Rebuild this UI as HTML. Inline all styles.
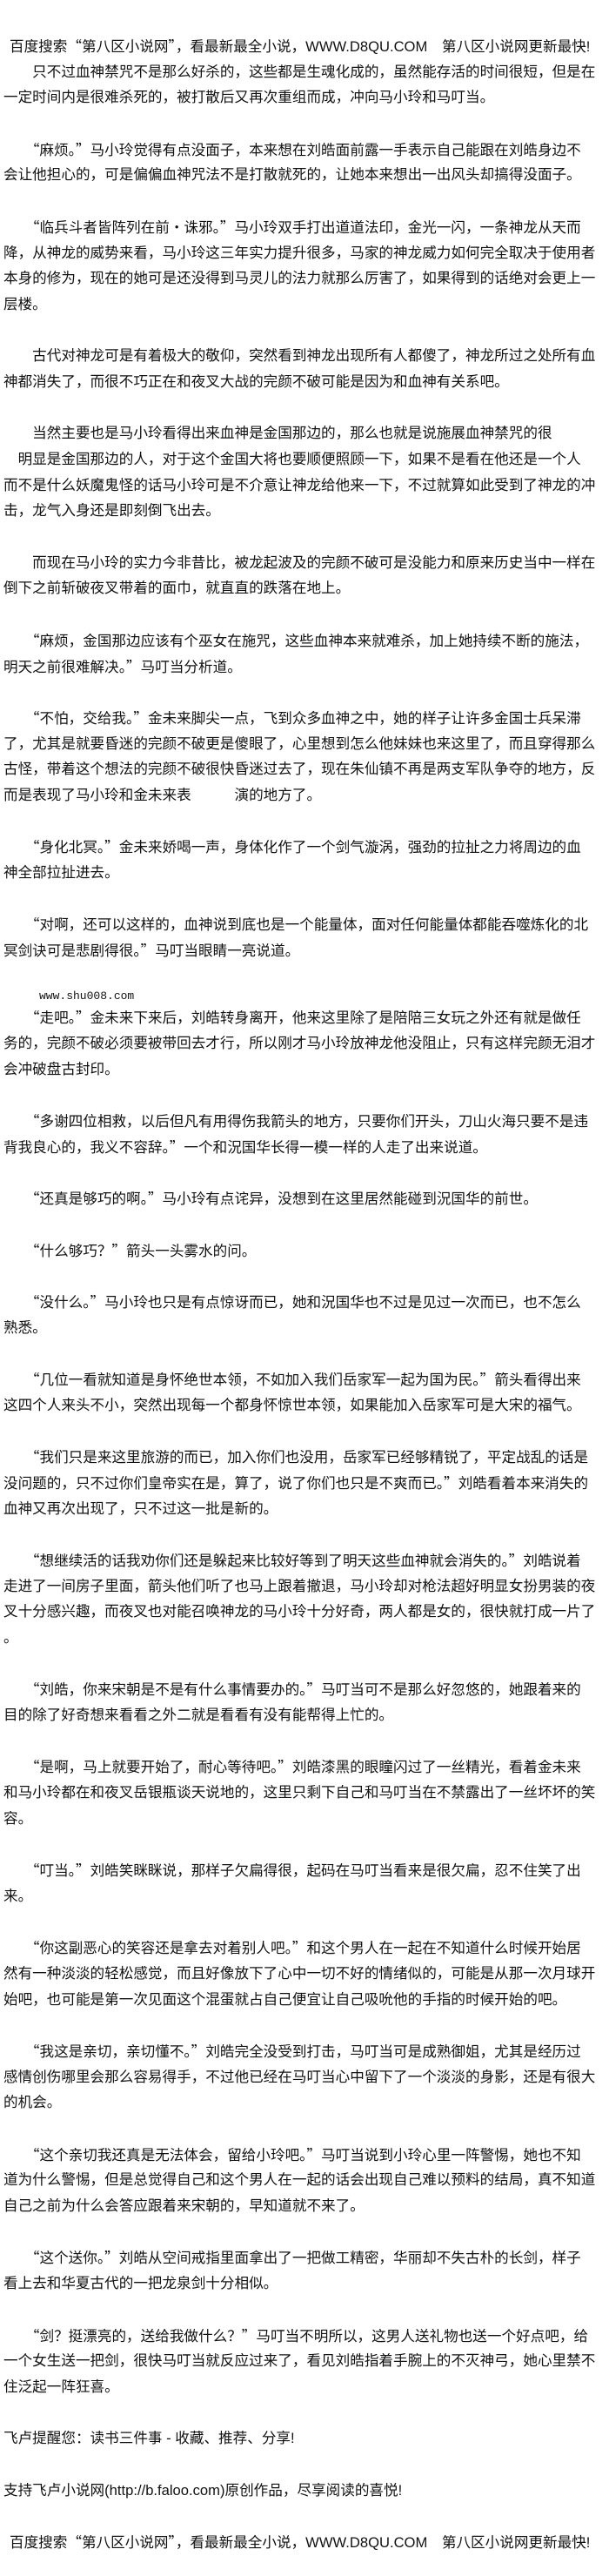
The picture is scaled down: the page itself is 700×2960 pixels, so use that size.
<!DOCTYPE html>
<html lang="zh-CN">
<head>
<meta charset="utf-8">
<style>
html,body{margin:0;padding:0;background:#fff;}
body{width:700px;height:2960px;overflow:hidden;}
#c{padding-top:38px;padding-left:4px;font-family:"Liberation Sans","Noto Sans CJK SC",sans-serif;font-size:16.6px;color:#111;}
#c div{height:29.7px;line-height:29.7px;white-space:pre;}
#c div.b{height:29.7px;}
#c div.w{height:18px;line-height:18px;font-family:"Liberation Mono",monospace;font-size:13px;padding-left:41px;}
#c i{font-style:normal;font-family:"Noto Sans CJK SC",sans-serif;}
.h{padding-left:7px;}
</style>
</head>
<body>
<div id="c">
<div class="h">百度搜索<i>“</i>第八区小说网<i>”</i>，看最新最全小说，WWW.D8QU.COM　第八区小说网更新最快!</div>
<div>　　只不过血神禁咒不是那么好杀的，这些都是生魂化成的，虽然能存活的时间很短，但是在</div>
<div>一定时间内是很难杀死的，被打散后又再次重组而成，冲向马小玲和马叮当。</div>
<div class="b"></div>
<div>　　<i>“</i>麻烦。<i>”</i>马小玲觉得有点没面子，本来想在刘皓面前露一手表示自己能跟在刘皓身边不</div>
<div>会让他担心的，可是偏偏血神咒法不是打散就死的，让她本来想出一出风头却搞得没面子。</div>
<div class="b"></div>
<div>　　<i>“</i>临兵斗者皆阵列在前<i>·</i>诛邪。<i>”</i>马小玲双手打出道道法印，金光一闪，一条神龙从天而</div>
<div>降，从神龙的威势来看，马小玲这三年实力提升很多，马家的神龙威力如何完全取决于使用者</div>
<div>本身的修为，现在的她可是还没得到马灵儿的法力就那么厉害了，如果得到的话绝对会更上一</div>
<div>层楼。</div>
<div class="b"></div>
<div>　　古代对神龙可是有着极大的敬仰，突然看到神龙出现所有人都傻了，神龙所过之处所有血</div>
<div>神都消失了，而很不巧正在和夜叉大战的完颜不破可能是因为和血神有关系吧。</div>
<div class="b"></div>
<div>　　当然主要也是马小玲看得出来血神是金国那边的，那么也就是说施展血神禁咒的很</div>
<div>　明显是金国那边的人，对于这个金国大将也要顺便照顾一下，如果不是看在他还是一个人</div>
<div>而不是什么妖魔鬼怪的话马小玲可是不介意让神龙给他来一下，不过就算如此受到了神龙的冲</div>
<div>击，龙气入身还是即刻倒飞出去。</div>
<div class="b"></div>
<div>　　而现在马小玲的实力今非昔比，被龙起波及的完颜不破可是没能力和原来历史当中一样在</div>
<div>倒下之前斩破夜叉带着的面巾，就直直的跌落在地上。</div>
<div class="b"></div>
<div>　　<i>“</i>麻烦，金国那边应该有个巫女在施咒，这些血神本来就难杀，加上她持续不断的施法，</div>
<div>明天之前很难解决。<i>”</i>马叮当分析道。</div>
<div class="b"></div>
<div>　　<i>“</i>不怕，交给我。<i>”</i>金未来脚尖一点，飞到众多血神之中，她的样子让许多金国士兵呆滞</div>
<div>了，尤其是就要昏迷的完颜不破更是傻眼了，心里想到怎么他妹妹也来这里了，而且穿得那么</div>
<div>古怪，带着这个想法的完颜不破很快昏迷过去了，现在朱仙镇不再是两支军队争夺的地方，反</div>
<div>而是表现了马小玲和金未来表　　　演的地方了。</div>
<div class="b"></div>
<div>　　<i>“</i>身化北冥。<i>”</i>金未来娇喝一声，身体化作了一个剑气漩涡，强劲的拉扯之力将周边的血</div>
<div>神全部拉扯进去。</div>
<div class="b"></div>
<div>　　<i>“</i>对啊，还可以这样的，血神说到底也是一个能量体，面对任何能量体都能吞噬炼化的北</div>
<div>冥剑诀可是悲剧得很。<i>”</i>马叮当眼睛一亮说道。</div>
<div class="b"></div>
<div class="w">www.shu008.com</div>
<div>　　<i>“</i>走吧。<i>”</i>金未来下来后，刘皓转身离开，他来这里除了是陪陪三女玩之外还有就是做任</div>
<div>务的，完颜不破必须要被带回去才行，所以刚才马小玲放神龙他没阻止，只有这样完颜无泪才</div>
<div>会冲破盘古封印。</div>
<div class="b"></div>
<div>　　<i>“</i>多谢四位相救，以后但凡有用得伤我箭头的地方，只要你们开头，刀山火海只要不是违</div>
<div>背我良心的，我义不容辞。<i>”</i>一个和況国华长得一模一样的人走了出来说道。</div>
<div class="b"></div>
<div>　　<i>“</i>还真是够巧的啊。<i>”</i>马小玲有点诧异，没想到在这里居然能碰到況国华的前世。</div>
<div class="b"></div>
<div>　　<i>“</i>什么够巧？<i>”</i>箭头一头雾水的问。</div>
<div class="b"></div>
<div>　　<i>“</i>没什么。<i>”</i>马小玲也只是有点惊讶而已，她和況国华也不过是见过一次而已，也不怎么</div>
<div>熟悉。</div>
<div class="b"></div>
<div>　　<i>“</i>几位一看就知道是身怀绝世本领，不如加入我们岳家军一起为国为民。<i>”</i>箭头看得出来</div>
<div>这四个人来头不小，突然出现每一个都身怀惊世本领，如果能加入岳家军可是大宋的福气。</div>
<div class="b"></div>
<div>　　<i>“</i>我们只是来这里旅游的而已，加入你们也没用，岳家军已经够精锐了，平定战乱的话是</div>
<div>没问题的，只不过你们皇帝实在是，算了，说了你们也只是不爽而已。<i>”</i>刘皓看着本来消失的</div>
<div>血神又再次出现了，只不过这一批是新的。</div>
<div class="b"></div>
<div>　　<i>“</i>想继续活的话我劝你们还是躲起来比较好等到了明天这些血神就会消失的。<i>”</i>刘皓说着</div>
<div>走进了一间房子里面，箭头他们听了也马上跟着撤退，马小玲却对枪法超好明显女扮男装的夜</div>
<div>叉十分感兴趣，而夜叉也对能召唤神龙的马小玲十分好奇，两人都是女的，很快就打成一片了</div>
<div>。</div>
<div class="b"></div>
<div>　　<i>“</i>刘皓，你来宋朝是不是有什么事情要办的。<i>”</i>马叮当可不是那么好忽悠的，她跟着来的</div>
<div>目的除了好奇想来看看之外二就是看看有没有能帮得上忙的。</div>
<div class="b"></div>
<div>　　<i>“</i>是啊，马上就要开始了，耐心等待吧。<i>”</i>刘皓漆黑的眼瞳闪过了一丝精光，看着金未来</div>
<div>和马小玲都在和夜叉岳银瓶谈天说地的，这里只剩下自己和马叮当在不禁露出了一丝坏坏的笑</div>
<div>容。</div>
<div class="b"></div>
<div>　　<i>“</i>叮当。<i>”</i>刘皓笑眯眯说，那样子欠扁得很，起码在马叮当看来是很欠扁，忍不住笑了出</div>
<div>来。</div>
<div class="b"></div>
<div>　　<i>“</i>你这副恶心的笑容还是拿去对着别人吧。<i>”</i>和这个男人在一起在不知道什么时候开始居</div>
<div>然有一种淡淡的轻松感觉，而且好像放下了心中一切不好的情绪似的，可能是从那一次月球开</div>
<div>始吧，也可能是第一次见面这个混蛋就占自己便宜让自己吸吮他的手指的时候开始的吧。</div>
<div class="b"></div>
<div>　　<i>“</i>我这是亲切，亲切懂不。<i>”</i>刘皓完全没受到打击，马叮当可是成熟御姐，尤其是经历过</div>
<div>感情创伤哪里会那么容易得手，不过他已经在马叮当心中留下了一个淡淡的身影，还是有很大</div>
<div>的机会。</div>
<div class="b"></div>
<div>　　<i>“</i>这个亲切我还真是无法体会，留给小玲吧。<i>”</i>马叮当说到小玲心里一阵警惕，她也不知</div>
<div>道为什么警惕，但是总觉得自己和这个男人在一起的话会出现自己难以预料的结局，真不知道</div>
<div>自己之前为什么会答应跟着来宋朝的，早知道就不来了。</div>
<div class="b"></div>
<div>　　<i>“</i>这个送你。<i>”</i>刘皓从空间戒指里面拿出了一把做工精密，华丽却不失古朴的长剑，样子</div>
<div>看上去和华夏古代的一把龙泉剑十分相似。</div>
<div class="b"></div>
<div>　　<i>“</i>剑？挺漂亮的，送给我做什么？<i>”</i>马叮当不明所以，这男人送礼物也送一个好点吧，给</div>
<div>一个女生送一把剑，很快马叮当就反应过来了，看见刘皓指着手腕上的不灭神弓，她心里禁不</div>
<div>住泛起一阵狂喜。</div>
<div class="b"></div>
<div>飞卢提醒您：读书三件事 - 收藏、推荐、分享!</div>
<div class="b"></div>
<div>支持飞卢小说网(http://b.faloo.com)原创作品，尽享阅读的喜悦!</div>
<div class="b"></div>
<div class="h">百度搜索<i>“</i>第八区小说网<i>”</i>，看最新最全小说，WWW.D8QU.COM　第八区小说网更新最快!</div>
</div>
</body>
</html>
